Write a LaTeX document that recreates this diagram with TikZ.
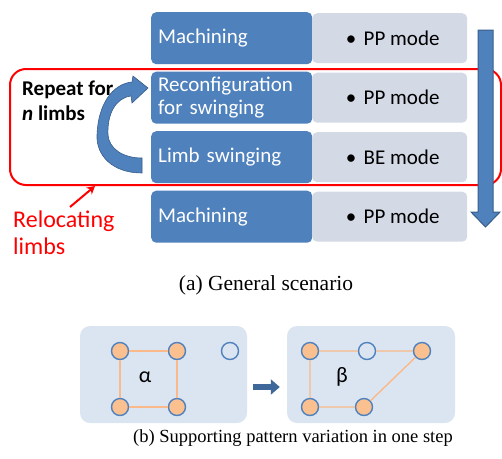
\documentclass[tikz,border=0pt]{standalone}
\usepackage{fontspec}
\setmainfont{Carlito}
\newfontfamily\capfont{Liberation Serif}
\usepackage{xcolor}
\usetikzlibrary{matrix, positioning, arrows.meta, calc}

\definecolor{boxblue}{HTML}{4F81BD}
\definecolor{boxedge}{HTML}{385D8A}
\definecolor{modegray}{HTML}{D3DAE6}
\definecolor{panelblue}{HTML}{DBE5F1}
\definecolor{footorange}{HTML}{FAC090}
\definecolor{legorange}{HTML}{F9B98A}
\definecolor{stepblue}{HTML}{3E6899}

\tikzset{
  task/.style={fill=boxblue, text=white, rounded corners=5pt, text width=147pt,
    inner xsep=7pt, inner ysep=2pt, minimum height=52pt, align=left,
    font=\fontsize{21}{23}\selectfont},
  mode/.style={fill=modegray, rounded corners=5pt, minimum width=155pt,
    minimum height=50pt, font=\fontsize{21}{23}\selectfont},
  foot/.style={circle, draw=boxblue, fill=footorange, line width=1.4pt,
    minimum size=17pt, inner sep=0pt},
  free/.style={foot, fill=none},
  leg/.style={draw=legorange, line width=1.4pt},
  panel/.style={fill=panelblue, rounded corners=10pt, minimum height=97pt}
}

\begin{document}
\begin{tikzpicture}[x=1pt, y=-1pt]
  \useasboundingbox (0,0) rectangle (502,458);

  % (a) general scenario
  \matrix (m) [
      matrix of nodes,
      anchor=north west,
      inner sep=0pt,
      row sep=7.5pt,
      column sep=0pt,
      nodes={anchor=center},
      column 1/.style={nodes={task}},
      column 2/.style={nodes={mode}}
    ] at (151,12) {
    Machining                       & \hspace{6pt}\textbullet\hspace{0.35em}PP mode \\
    {Reconfiguration\\for swinging} & \hspace{6pt}\textbullet\hspace{0.35em}PP mode \\
    Limb swinging                   & \hspace{6pt}\textbullet\hspace{0.35em}BE mode \\
    Machining                       & \hspace{6pt}\textbullet\hspace{0.35em}PP mode \\
  };

  \draw[red, line width=2pt, rounded corners=16pt] (10,69) rectangle (501,185);

  \filldraw[fill=boxblue, draw=boxedge, line width=1pt]
    (478,30) -- (493,30) -- (493,212) -- (500,212) -- (485.5,227)
    -- (471,212) -- (478,212) -- cycle;

  \node (rep) [anchor=base west, inner sep=0pt, align=left,
    font=\bfseries\fontsize{21}{25}\selectfont] at (22,120)
    {Repeat for\\\textit{n} limbs};

  \filldraw[fill=boxblue, draw=boxedge, line width=0.6pt]
    (142,173) .. controls (112,173) and (96,155) .. (97,135)
    .. controls (98,105) and (112,84) .. (132,82)
    -- (133,76) -- (148,88) -- (132,103) -- (131,96)
    .. controls (115,98) and (107,115) .. (108,135)
    .. controls (109,148) and (122,158) .. (142,158) -- cycle;

  \node (reloc) [anchor=base west, inner sep=0pt, align=left, text=red,
    font=\fontsize{24}{27}\selectfont] at (13,254) {Relocating\\limbs};
  \coordinate (relocTail) at (70,207);
  \coordinate (relocTip) at (95,186);
  \draw[red, line width=2pt, -{Stealth[length=8pt, width=9pt]}] (relocTail) -- (relocTip);

  \node (capA) [anchor=base, font=\capfont\fontsize{21.5}{24}\selectfont]
    at (266,290) {(a) General scenario};

  % (b) supporting pattern
  \node (panA) [panel, minimum width=167pt] at (163.5,374.5) {};
  \node (panB) [panel, minimum width=168pt] at (371,374.5) {};

  \node (a1) [foot] at (120,351) {};
  \node (a2) [foot] at (177,351) {};
  \node (a3) [foot] at (120,407) {};
  \node (a4) [foot] at (177,407) {};
  \node (a5) [free] at (230,351) {};
  \draw[leg] (a1) -- (a2) -- (a4) -- (a3) -- (a1);
  \node (alpha) [font=\fontsize{22}{24}\selectfont] at (145,377) {α};

  \node (b1) [foot] at (310,351) {};
  \node (b2) [free] at (367,351) {};
  \node (b3) [foot] at (422,351) {};
  \node (b4) [foot] at (310,407) {};
  \node (b5) [foot] at (364,407) {};
  \draw[leg] (b1) -- (b2) -- (b3) -- (b5) -- (b4) -- (b1);
  \node (beta) [font=\fontsize{22}{24}\selectfont] at (342,377) {β};

  \draw[stepblue, line width=6pt, -{Triangle[length=9pt, width=15pt]},
    shorten <=6pt, shorten >=7pt]
    ([yshift=-12.5pt]panA.east) -- ([yshift=-12.5pt]panB.west);

  \node (capB) [anchor=base, font=\capfont\fontsize{18.5}{21}\selectfont]
    at (293,442) {(b) Supporting pattern variation in one step};
\end{tikzpicture}
\end{document}
